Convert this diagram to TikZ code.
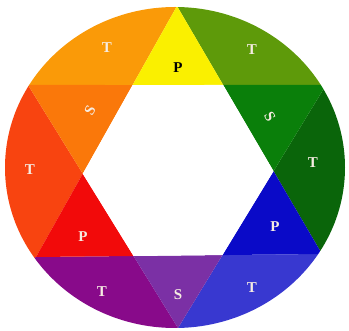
\documentclass[tikz,border=0pt]{standalone}
\usepackage{fontspec}
\setmainfont{Liberation Serif}
\usetikzlibrary{calc}
\definecolor{yellowP}{RGB}{250,240,0}
\definecolor{orangeT}{RGB}{250,154,8}
\definecolor{orangeS}{RGB}{250,120,10}
\definecolor{redT}{RGB}{248,68,16}
\definecolor{redP}{RGB}{242,10,10}
\definecolor{purpleT}{RGB}{136,10,138}
\definecolor{violetS}{RGB}{123,48,165}
\definecolor{blueT}{RGB}{56,56,208}
\definecolor{blueP}{RGB}{10,10,200}
\definecolor{dkgreenT}{RGB}{10,101,10}
\definecolor{greenS}{RGB}{10,127,10}
\definecolor{ygreenT}{RGB}{94,154,10}
\definecolor{lblwhite}{RGB}{246,236,226}
\begin{document}
\begin{tikzpicture}[x=1pt,y=-1pt,
  lbl/.style={font=\fontsize{15}{15}\selectfont\bfseries, text=lblwhite, inner sep=0pt}]
\useasboundingbox (0,0) rectangle (349,331);
\coordinate (O) at (175,167.5);
\coordinate (A) at (177,6);
\coordinate (B) at (28,85);
\coordinate (C) at (36,257);
\coordinate (D) at (178,328);
\coordinate (E) at (322,254);
\coordinate (F) at (326,85);
\coordinate (H1) at (intersection of A--C and B--F);
\coordinate (H2) at (intersection of A--E and B--F);
\coordinate (H3) at (intersection of A--E and D--F);
\coordinate (H4) at (intersection of C--E and D--F);
\coordinate (H5) at (intersection of C--E and B--D);
\coordinate (H6) at (intersection of A--C and B--D);
\begin{scope}
\clip (O) ellipse [x radius=170, y radius=160.5];
% tertiary sectors
\fill[orangeT] (A) -- (H1) -- (B) -- ($(O)!1.6!(B)$) -- ($(O)!2.2!(H1)$) -- ($(O)!1.6!(A)$) -- cycle;
\fill[redT] (B) -- (H6) -- (C) -- ($(O)!1.6!(C)$) -- ($(O)!2.2!(H6)$) -- ($(O)!1.6!(B)$) -- cycle;
\fill[purpleT] (C) -- (H5) -- (D) -- ($(O)!1.6!(D)$) -- ($(O)!2.2!(H5)$) -- ($(O)!1.6!(C)$) -- cycle;
\fill[blueT] (D) -- (H4) -- (E) -- ($(O)!1.6!(E)$) -- ($(O)!2.2!(H4)$) -- ($(O)!1.6!(D)$) -- cycle;
\fill[dkgreenT] (E) -- (H3) -- (F) -- ($(O)!1.6!(F)$) -- ($(O)!2.2!(H3)$) -- ($(O)!1.6!(E)$) -- cycle;
\fill[ygreenT] (F) -- (H2) -- (A) -- ($(O)!1.6!(A)$) -- ($(O)!2.2!(H2)$) -- ($(O)!1.6!(F)$) -- cycle;
% star points
\fill[yellowP] (A) -- (H1) -- (H2) -- cycle;
\fill[orangeS] (B) -- (H1) -- (H6) -- cycle;
\fill[redP] (C) -- (H6) -- (H5) -- cycle;
\fill[violetS] (D) -- (H5) -- (H4) -- cycle;
\fill[blueP] (E) -- (H4) -- (H3) -- cycle;
\fill[greenS] (F) -- (H3) -- (H2) -- cycle;
\end{scope}
\fill[white] (H1) -- (H2) -- (H3) -- (H4) -- (H5) -- (H6) -- cycle;
% labels
\node[lbl] (t1) at (107,48) {T};
\node[lbl, text=black] (p1) at (178,68) {P};
\node[lbl] (t6) at (252,50) {T};
\node[lbl, rotate=60] (s1) at (90,110) {S};
\node[lbl, rotate=-60] (s3) at (270,117) {S};
\node[lbl] (t2) at (30,170) {T};
\node[lbl] (t5) at (313,163) {T};
\node[lbl] (p2) at (83,237) {P};
\node[lbl] (p3) at (275,227) {P};
\node[lbl] (t3) at (102,292) {T};
\node[lbl] (s2) at (178,295) {S};
\node[lbl] (t4) at (252,288) {T};
\end{tikzpicture}
\end{document}
